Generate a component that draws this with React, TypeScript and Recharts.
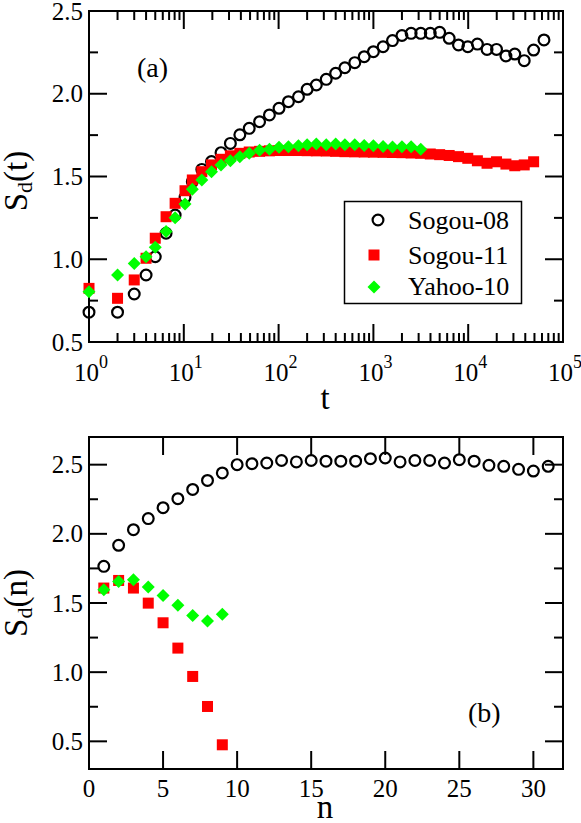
import React from 'react';
import { ScatterChart, Scatter, XAxis, YAxis, ReferenceArea } from 'recharts';

// ---------- data: panel (a) ----------
const tBins = [1, 2, 3, 4, 5, 6.5, 8.1, 10.3, 12.3, 15.5, 19.6, 24.7, 31, 39, 49, 63, 80, 101, 127, 162, 200, 250, 318, 400, 500, 636, 800, 1000, 1265, 1590, 2000, 2500, 3160, 3980, 5000, 6300, 7900, 9900, 12500, 15800, 19900, 25000, 31000, 39000, 49000, 63000];
const sogou08T = [0.68, 0.68, 0.79, 0.905, 1.015, 1.157, 1.267, 1.374, 1.469, 1.543, 1.59, 1.644, 1.7, 1.752, 1.791, 1.831, 1.872, 1.912, 1.952, 1.982, 2.027, 2.053, 2.087, 2.124, 2.157, 2.188, 2.224, 2.254, 2.284, 2.321, 2.352, 2.365, 2.365, 2.365, 2.371, 2.335, 2.295, 2.284, 2.3, 2.268, 2.268, 2.228, 2.24, 2.2, 2.264, 2.325];
const sogou11T = [0.824, 0.764, 0.875, 1.006, 1.127, 1.257, 1.338, 1.414, 1.479, 1.529, 1.57, 1.604, 1.625, 1.64, 1.648, 1.652, 1.655, 1.657, 1.657, 1.657, 1.656, 1.655, 1.654, 1.652, 1.65, 1.649, 1.648, 1.647, 1.646, 1.645, 1.644, 1.642, 1.64, 1.636, 1.632, 1.627, 1.62, 1.61, 1.595, 1.58, 1.589, 1.575, 1.565, 1.57, 1.589];
const yahoo10T = [0.804, 0.905, 0.975, 1.015, 1.072, 1.167, 1.251, 1.334, 1.423, 1.479, 1.529, 1.57, 1.595, 1.62, 1.64, 1.658, 1.664, 1.676, 1.68, 1.686, 1.692, 1.696, 1.692, 1.696, 1.692, 1.692, 1.688, 1.686, 1.682, 1.678, 1.68, 1.68, 1.665];

// ---------- data: panel (b) ----------
const nValues = [1, 2, 3, 4, 5, 6, 7, 8, 9, 10, 11, 12, 13, 14, 15, 16, 17, 18, 19, 20, 21, 22, 23, 24, 25, 26, 27, 28, 29, 30, 31];
const sogou08N = [1.765, 1.917, 2.03, 2.11, 2.189, 2.254, 2.321, 2.386, 2.44, 2.5, 2.507, 2.512, 2.53, 2.52, 2.53, 2.525, 2.525, 2.525, 2.543, 2.548, 2.52, 2.53, 2.53, 2.512, 2.536, 2.525, 2.495, 2.488, 2.466, 2.454, 2.488];
const sogou11N = [1.608, 1.663, 1.608, 1.499, 1.357, 1.174, 0.969, 0.752, 0.475];
const yahoo10N = [1.596, 1.656, 1.668, 1.615, 1.555, 1.483, 1.41, 1.369, 1.418];

// ---------- ticks ----------
const logDecades = [1, 10, 100, 1000, 10000, 100000];
const logMinorFactors = [2, 3, 4, 5, 6, 7, 8, 9];
const yTicks = [0.5, 0.75, 1.0, 1.25, 1.5, 1.75, 2.0, 2.25, 2.5];
const nTicks = [0, 5, 10, 15, 20, 25, 30];

const seriesNames = ['Sogou-08', 'Sogou-11', 'Yahoo-10'];

const logTicks: number[] = [];
logDecades.forEach((d, i) => {
  logTicks.push(d);
  if (i < logDecades.length - 1) logMinorFactors.forEach((f) => logTicks.push(d * f));
});

const toPoints = (xs: number[], ys: number[]) => ys.map((y, i) => ({ x: xs[i], y }));

// ---------- layout ----------
const FONT = '"Liberation Serif", "Times New Roman", serif';
const W = 581;
const LEFT = 89;
const RIGHT = 18;
const PW = W - LEFT - RIGHT;
const TOP_H = 420;
const TOP_T = 11;
const TOP_B = 78;
const TOP_PH = TOP_H - TOP_T - TOP_B;
const BOT_H = 403;
const BOT_T = 17;
const BOT_B = 54;
const BOT_PH = BOT_H - BOT_T - BOT_B;
const MAJOR = 18;
const MINOR = 9;
const TW = 2;

const isHalf = (v: number) => Math.abs(v * 2 - Math.round(v * 2)) < 1e-6;
const isDecade = (v: number) => Math.abs(Math.log10(v) - Math.round(Math.log10(v))) < 1e-6;

const makeYTick = (pw: number) => (props: any) => {
  const { x, y, payload } = props;
  const v = payload.value as number;
  const major = isHalf(v);
  const len = major ? MAJOR : MINOR;
  return (
    <g>
      <line x1={x} y1={y} x2={x + len} y2={y} stroke="#000" strokeWidth={TW} />
      <line x1={x + pw} y1={y} x2={x + pw - len} y2={y} stroke="#000" strokeWidth={TW} />
      {major && (
        <text x={x - 6} y={y + 8.5} textAnchor="end" fontFamily={FONT} fontSize={25} fill="#000">
          {v.toFixed(1)}
        </text>
      )}
    </g>
  );
};

const makeLogXTick = (ph: number) => (props: any) => {
  const { x, y, payload } = props;
  const v = payload.value as number;
  const major = isDecade(v);
  const len = major ? MAJOR : MINOR;
  return (
    <g>
      <line x1={x} y1={y} x2={x} y2={y - len} stroke="#000" strokeWidth={TW} />
      <line x1={x} y1={y - ph} x2={x} y2={y - ph + len} stroke="#000" strokeWidth={TW} />
      {major && (
        <text x={x + 2} y={y + 39} textAnchor="middle" fontFamily={FONT} fontSize={25} fill="#000">
          10
          <tspan dy={-13} fontSize={18}>
            {Math.round(Math.log10(v))}
          </tspan>
        </text>
      )}
    </g>
  );
};

const makeLinXTick = (ph: number) => (props: any) => {
  const { x, y, payload } = props;
  const v = payload.value as number;
  return (
    <g>
      <line x1={x} y1={y} x2={x} y2={y - MAJOR} stroke="#000" strokeWidth={TW} />
      <line x1={x} y1={y - ph} x2={x} y2={y - ph + MAJOR} stroke="#000" strokeWidth={TW} />
      <text x={x} y={y + 28} textAnchor="middle" fontFamily={FONT} fontSize={25} fill="#000">
        {v}
      </text>
    </g>
  );
};

const circleShape = (p: any) => (
  <circle cx={p.cx} cy={p.cy} r={5.4} fill="none" stroke="#000" strokeWidth={2.2} />
);
const squareShape = (p: any) => (
  <rect x={p.cx - 5.5} y={p.cy - 5.5} width={11} height={11} fill="#ff0000" />
);
const diamondShape = (p: any) => (
  <polygon
    points={`${p.cx},${p.cy - 6.5} ${p.cx + 6.5},${p.cy} ${p.cx},${p.cy + 6.5} ${p.cx - 6.5},${p.cy}`}
    fill="#00ff00"
  />
);

export default function App() {
  return (
    <div style={{ position: 'absolute', left: 0, top: 0, width: W, height: TOP_H + BOT_H, background: '#fff' }}>
      <ScatterChart width={W} height={TOP_H} margin={{ top: TOP_T, right: RIGHT, bottom: 0, left: 0 }}>
        <XAxis
          type="number"
          dataKey="x"
          scale="log"
          domain={[1, 100000]}
          ticks={logTicks}
          interval={0}
          tickSize={0}
          tickMargin={0}
          axisLine={false}
          tickLine={false}
          height={TOP_B}
          tick={makeLogXTick(TOP_PH)}
        />
        <YAxis
          type="number"
          dataKey="y"
          domain={[0.5, 2.5]}
          ticks={yTicks}
          interval={0}
          tickSize={0}
          tickMargin={0}
          axisLine={false}
          tickLine={false}
          width={LEFT}
          tick={makeYTick(PW)}
        />
        <ReferenceArea x1={1} x2={100000} y1={0.5} y2={2.5} fill="none" fillOpacity={0} stroke="#000" strokeWidth={2} />
        <Scatter name={seriesNames[0]} data={toPoints(tBins, sogou08T)} shape={circleShape} isAnimationActive={false} />
        <Scatter name={seriesNames[1]} data={toPoints(tBins, sogou11T)} shape={squareShape} isAnimationActive={false} />
        <Scatter name={seriesNames[2]} data={toPoints(tBins, yahoo10T)} shape={diamondShape} isAnimationActive={false} />
      </ScatterChart>
      <ScatterChart width={W} height={BOT_H} margin={{ top: BOT_T, right: RIGHT, bottom: 0, left: 0 }}>
        <XAxis
          type="number"
          dataKey="x"
          domain={[0, 32]}
          ticks={nTicks}
          interval={0}
          tickSize={0}
          tickMargin={0}
          axisLine={false}
          tickLine={false}
          height={BOT_B}
          tick={makeLinXTick(BOT_PH)}
        />
        <YAxis
          type="number"
          dataKey="y"
          domain={[0.3, 2.7]}
          ticks={yTicks}
          interval={0}
          tickSize={0}
          tickMargin={0}
          axisLine={false}
          tickLine={false}
          width={LEFT}
          tick={makeYTick(PW)}
        />
        <ReferenceArea x1={0} x2={32} y1={0.3} y2={2.7} fill="none" fillOpacity={0} stroke="#000" strokeWidth={2} />
        <Scatter name={seriesNames[0]} data={toPoints(nValues, sogou08N)} shape={circleShape} isAnimationActive={false} />
        <Scatter name={seriesNames[1]} data={toPoints(nValues, sogou11N)} shape={squareShape} isAnimationActive={false} />
        <Scatter name={seriesNames[2]} data={toPoints(nValues, yahoo10N)} shape={diamondShape} isAnimationActive={false} />
      </ScatterChart>
      <svg
        width={W}
        height={TOP_H + BOT_H}
        style={{ position: 'absolute', left: 0, top: 0, pointerEvents: 'none' }}
        fontFamily={FONT}
      >
        {/* panel labels */}
        <text x={137} y={77} fontSize={28} fill="#000">(a)</text>
        <text x={468} y={722} fontSize={28} fill="#000">(b)</text>
        {/* axis titles */}
        <text x={325} y={409} fontSize={33} textAnchor="middle" fill="#000">t</text>
        <text x={325} y={818} fontSize={33} textAnchor="middle" fill="#000">n</text>
        <text transform="translate(27,181) rotate(-90)" fontSize={33} textAnchor="middle" fill="#000">
          S<tspan fontSize={22} dy={5}>d</tspan>
          <tspan dy={-5}>(t)</tspan>
        </text>
        <text transform="translate(27,603) rotate(-90)" fontSize={33} textAnchor="middle" fill="#000">
          S<tspan fontSize={22} dy={5}>d</tspan>
          <tspan dy={-5}>(n)</tspan>
        </text>
        {/* legend */}
        <rect x={344.5} y={201.5} width={177} height={102} fill="#fff" stroke="#000" strokeWidth={1.5} />
        <circle cx={378} cy={220} r={5.4} fill="none" stroke="#000" strokeWidth={2.2} />
        <rect x={368.5} y={249.5} width={11} height={11} fill="#ff0000" />
        <polygon points="374,280.5 380.5,287 374,293.5 367.5,287" fill="#00ff00" />
        <text x={408} y={229} fontSize={26} fill="#000">{seriesNames[0]}</text>
        <text x={408} y={263.5} fontSize={26} fill="#000">{seriesNames[1]}</text>
        <text x={408} y={295} fontSize={26} fill="#000">{seriesNames[2]}</text>
      </svg>
    </div>
  );
}
